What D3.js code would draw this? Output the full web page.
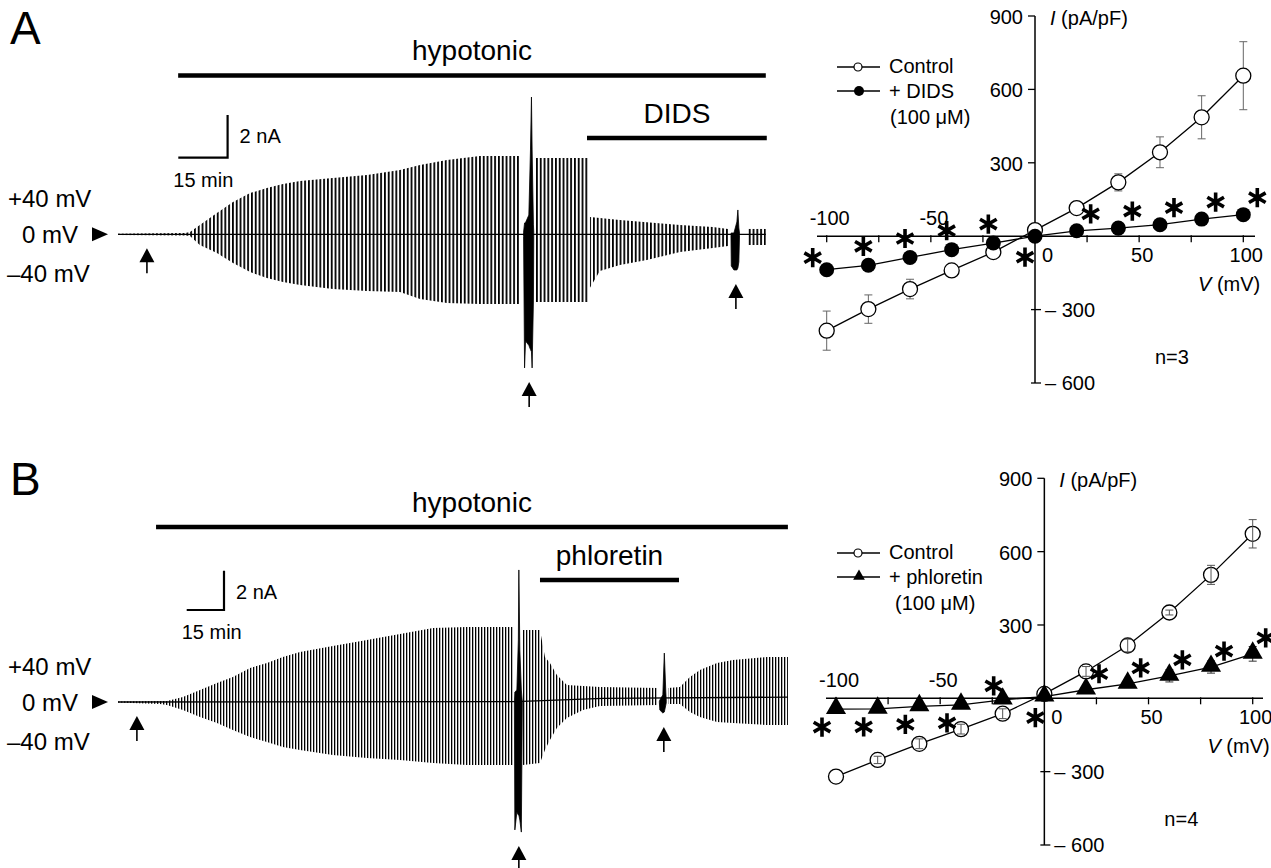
<!DOCTYPE html>
<html><head><meta charset="utf-8">
<script src="https://cdn.jsdelivr.net/npm/d3@7"></script>
<style>
body{margin:0;background:#fff}
svg{display:block}
text{font-family:"Liberation Sans",Arial,Helvetica,sans-serif;fill:#000}
</style>
</head><body>
<svg id="c" width="1271" height="868"></svg>
<script>
// ================= DATA =================
// Whole-cell current traces: [time (min), upper envelope (nA), lower envelope (nA)]
const traceA_seg1 = [[0,0.03,-0.03],[20.4,0.06,-0.06],[21.9,0.11,-0.08],[24.9,0.44,-0.50],[30.1,1.00,-0.88],[35.0,1.51,-1.34],[40.2,1.93,-1.77],[45.3,2.17,-2.05],[50.2,2.36,-2.23],[55.4,2.50,-2.37],[65.4,2.64,-2.56],[75.8,2.78,-2.66],[85.8,3.01,-2.70],[91.9,3.25,-3.03],[100.1,3.48,-3.22],[110.1,3.67,-3.26],[122.3,3.67,-3.26]];
const traceA_seg2 = [[126.9,3.57,-3.17],[143.0,3.57,-3.17]];
const traceA_seg3 = [[143.6,0.81,-2.50],[146.6,0.76,-1.72],[152.7,0.67,-1.44],[160.9,0.57,-1.20],[171.0,0.44,-0.83],[181.0,0.34,-0.64],[185.6,0.25,-0.55]];
const traceA_seg4 = [[191.4,0.25,-0.50],[197.1,0.25,-0.50]];
const spikeA1 = [[123.4,0.1,-0.1],[123.7,0.53,-6.26],[124.0,0.55,-5.0],[125.0,0.90,-5.2],[125.5,3.95,-5.4],[125.8,6.43,-5.5],[126.0,3.95,-6.26],[126.4,0.44,-3.08],[126.5,0.1,-0.1]];
const spikeA2 = [[186.5,0.05,-0.05],[186.6,0.06,-1.48],[187.4,0.06,-1.67],[188.3,0.58,-1.67],[188.6,1.14,-1.58],[188.9,0.30,-1.30],[189.1,0.05,-0.05]];
const baseA = [[0,0],[197.1,0]];

const traceB_seg1 = [[0,0.03,-0.03],[16.9,0.05,-0.10],[19.7,0.05,-0.15],[26.1,0.25,-0.41],[33.0,0.61,-0.76],[39.8,0.97,-1.07],[46.2,1.27,-1.42],[53.1,1.73,-1.78],[59.9,1.98,-2.04],[66.3,2.29,-2.29],[73.2,2.54,-2.44],[86.4,2.85,-2.70],[100.1,3.16,-2.85],[113.4,3.46,-2.95],[126.7,3.77,-3.10],[140.3,3.82,-3.21],[158.8,3.82,-3.21]];
const traceB_seg2 = [[162.8,3.66,-3.21],[169.7,3.66,-3.10],[171.7,2.29,-2.44],[173.7,1.98,-1.93],[176.5,1.37,-1.32],[180.5,0.87,-0.81],[187.0,0.81,-0.41],[193.8,0.76,-0.20],[217.1,0.71,-0.15]];
const traceB_seg3 = [[221.2,0.71,-0.10],[226.0,0.76,-0.10],[230.0,1.27,-0.51],[234.0,1.63,-0.76],[240.9,1.98,-1.02],[247.3,2.14,-1.07],[261.0,2.29,-1.17],[269.4,2.29,-1.17]];
const spikeB1 = [[159.4,0,0],[159.6,0.51,-6.51],[160.4,0.61,-5.60],[161.0,3.16,-5.75],[161.2,6.72,-5.75],[161.6,2.65,-6.01],[162.2,0.61,-6.62],[162.6,0,0]];
const spikeB2 = [[217.7,0.02,-0.02],[217.9,0.10,-0.41],[219.1,0.36,-0.56],[219.7,2.49,-0.51],[220.3,0.51,-0.15],[220.5,0.02,-0.02]];
const baseB = [[0,0],[160,0.02],[195,0.18],[269.4,0.25]];

// Solution applications (min)
const solNamesA = ["hypotonic","DIDS"];
const solStartA = [18.3,142.7];
const solEndA   = [197.1,197.4];
const solNamesB = ["hypotonic","phloretin"];
const solStartB = [15.3,169.7];
const solEndB   = [269.4,225.6];

// Times of I-V protocols (arrows), min
const ivTimesA = [8.8,125.1,188.0];
const ivTimesB = [7.6,161.2,219.5];

// I-V relations
const voltages = [-100,-80,-60,-40,-20,0,20,40,60,80,100];
const ctrlA    = [-386,-298,-216,-140,-65,25,115,220,343,486,656];
const ctrlA_se = [80,58,40,12,10,0,15,35,63,88,139];
const didsA    = [-137,-119,-87,-55,-28,0,22,33,47,70,88];
const sigA     = [1,1,1,1,1,1,1,1,1,1,1];
const ctrlB    = [-320,-252,-186,-126,-63,18,110,216,351,505,673];
const ctrlB_se = [0,15,20,20,20,0,20,26,10,39,58];
const phlB     = [-44,-43,-33,-27,-6,7,35,59,92,128,182];
const phlB_se  = [12,12,10,10,8,0,10,15,25,25,30];
const sigB     = [1,1,1,1,1,1,1,1,1,1,1];

const xTicksIV = [-100,-75,-50,-25,25,50,75,100];
const xLabelsIV = [-100,-50,0,50,100];
const yTicksIV = [900,600,300,-300,-600];

// ================= DRAW =================
const svg = d3.select("#c");
svg.append("rect").attr("width",1271).attr("height",868).attr("fill","#fff");
const defs = svg.append("defs");
function hatch(id, w, lw){
  const p = defs.append("pattern").attr("id",id).attr("patternUnits","userSpaceOnUse")
    .attr("x",118).attr("y",0).attr("width",w).attr("height",20);
  p.append("rect").attr("x",0).attr("y",0).attr("width",lw).attr("height",20).attr("fill","#000");
}
hatch("hatchA",3.8,1.8);
hatch("hatchB",3.0,1.3);

function tracePanel(o){
  const g = svg.append("g");
  const x = o.x, y = o.y;
  const area = d3.area().x(d=>x(d[0])).y0(d=>y(d[2])).y1(d=>y(d[1]));
  o.segs.forEach(s=>g.append("path").attr("d",area(s)).attr("fill",`url(#${o.hatch})`));
  o.spikes.forEach(s=>g.append("path").attr("d",area(s)).attr("fill","#000").attr("stroke","#000").attr("stroke-width",0.8));
  g.append("path").attr("d",d3.line().x(d=>x(d[0])).y(d=>y(d[1]))(o.base))
    .attr("fill","none").attr("stroke","#000").attr("stroke-width",1.3);
  // solution bars
  o.names.forEach((n,i)=>{
    const by = o.barY[i];
    g.append("line").attr("x1",x(o.start[i])).attr("x2",x(o.end[i])).attr("y1",by).attr("y2",by)
      .attr("stroke","#000").attr("stroke-width",4.5);
    g.append("text").attr("x",(x(o.start[i])+x(o.end[i]))/2).attr("y",by-15.5)
      .attr("text-anchor","middle").attr("font-size",28).text(n);
  });
  // arrows
  const all = o.segs.concat(o.spikes).flat();
  o.iv.forEach(t=>{
    const near = all.filter(d=>Math.abs(d[0]-t)<2.5);
    const low = near.length? d3.min(near,d=>d[2]) : 0;
    const top = y(low)+14;
    const ax = x(t);
    g.append("path").attr("d",`M${ax},${top}L${ax+7.5},${top+14}L${ax-7.5},${top+14}Z`).attr("fill","#000");
    g.append("line").attr("x1",ax).attr("x2",ax).attr("y1",top+13).attr("y2",top+25)
      .attr("stroke","#000").attr("stroke-width",1.6);
  });
  // scale bar
  const sx = o.sb[0], sy = o.sb[1];
  const w = x(15)-x(0), h = y(0)-y(2);
  g.append("path").attr("d",`M${sx},${sy}H${sx+w}V${sy-h}`).attr("fill","none")
    .attr("stroke","#000").attr("stroke-width",2.2);
  g.append("text").attr("x",sx+w+12).attr("y",sy-h+28).attr("font-size",20).text("2 nA");
  g.append("text").attr("x",sx-5).attr("y",sy+29).attr("font-size",20).text("15 min");
  // voltage labels
  const y0 = y(0);
  g.append("text").attr("x",8).attr("y",y0-27).attr("font-size",24).text("+40 mV");
  g.append("text").attr("x",22).attr("y",y0+9).attr("font-size",24).text("0 mV");
  g.append("path").attr("d",`M92,${y0-7}L108,${y0}L92,${y0+7}Z`).attr("fill","#000");
  g.append("text").attr("x",7).attr("y",y0+48).attr("font-size",24).text("\u201340 mV");
  g.append("text").attr("x",10).attr("y",o.letterY).attr("font-size",46).text(o.letter);
}

tracePanel({
  letter:"A", letterY:44,
  x:d3.scaleLinear([0,15],[118,167.3]), y:d3.scaleLinear([0,2],[234.3,191.6]),
  segs:[traceA_seg1,traceA_seg2,traceA_seg3,traceA_seg4], spikes:[spikeA1,spikeA2], base:baseA,
  hatch:"hatchA", names:solNamesA, start:solStartA, end:solEndA, barY:[75.5,138],
  iv:ivTimesA, sb:[178.3,157.7]
});
tracePanel({
  letter:"B", letterY:495,
  x:d3.scaleLinear([0,15],[118,155.3]), y:d3.scaleLinear([0,2],[702,662.7]),
  segs:[traceB_seg1,traceB_seg2,traceB_seg3], spikes:[spikeB1,spikeB2], base:baseB,
  hatch:"hatchB", names:solNamesB, start:solStartB, end:solEndB, barY:[527,580],
  iv:ivTimesB, sb:[186.7,610]
});

function ivPanel(o){
  const g = svg.append("g");
  const x = o.x, y = o.y;
  const x0 = x(0), y0 = y(0);
  // axes
  g.append("line").attr("x1",o.xRange[0]).attr("x2",o.xRange[1]).attr("y1",y0).attr("y2",y0).attr("stroke","#000").attr("stroke-width",1.5);
  g.append("line").attr("x1",x0).attr("x2",x0).attr("y1",y(900)).attr("y2",y(-600)).attr("stroke","#000").attr("stroke-width",1.5);
  xTicksIV.forEach(v=>g.append("line").attr("x1",x(v)).attr("x2",x(v)).attr("y1",y0-1).attr("y2",y0+6).attr("stroke","#000").attr("stroke-width",1.3));
  xLabelsIV.forEach(v=>{
    if(v<0) g.append("text").attr("x",x(v)+3).attr("y",y0-11).attr("text-anchor","middle").attr("font-size",20).text(v);
    else if(v===0) g.append("text").attr("x",x0+7).attr("y",y0+26).attr("font-size",20).text("0");
    else g.append("text").attr("x",x(v)+3).attr("y",y0+26).attr("text-anchor","middle").attr("font-size",20).text(v);
  });
  yTicksIV.forEach(v=>{
    if(v>0){
      g.append("line").attr("x1",x0-7).attr("x2",x0).attr("y1",y(v)).attr("y2",y(v)).attr("stroke","#000").attr("stroke-width",1.3);
      g.append("text").attr("x",x0-12).attr("y",y(v)+8).attr("text-anchor","end").attr("font-size",20).text(v);
    } else {
      g.append("line").attr("x1",x0-4).attr("x2",x0+6).attr("y1",y(v)).attr("y2",y(v)).attr("stroke","#000").attr("stroke-width",1.3);
      g.append("text").attr("x",x0+10).attr("y",y(v)+7).attr("font-size",20).text("\u2013 "+(-v));
    }
  });
  const it = g.append("text").attr("x",x0+15).attr("y",y(900)+9).attr("font-size",20);
  it.append("tspan").attr("font-style","italic").text("I");
  it.append("tspan").text(" (pA/pF)");
  const vt = g.append("text").attr("x",x(100)+17).attr("y",y0+55).attr("text-anchor","end").attr("font-size",20);
  vt.append("tspan").attr("font-style","italic").text("V");
  vt.append("tspan").text(" (mV)");
  g.append("text").attr("x",x(60)-5).attr("y",y(-522)).attr("font-size",20).text(o.nLabel);

  const line = d3.line().x((d,i)=>x(voltages[i])).y(d=>y(d));
  const errBars = (vals, se, col)=>{
    voltages.forEach((v,i)=>{
      if(!se[i]) return;
      const cx = x(v), a = y(vals[i]+se[i]), b = y(vals[i]-se[i]);
      g.append("line").attr("x1",cx).attr("x2",cx).attr("y1",a).attr("y2",b).attr("stroke",col).attr("stroke-width",1);
      g.append("line").attr("x1",cx-4).attr("x2",cx+4).attr("y1",a).attr("y2",a).attr("stroke",col).attr("stroke-width",1);
      g.append("line").attr("x1",cx-4).attr("x2",cx+4).attr("y1",b).attr("y2",b).attr("stroke",col).attr("stroke-width",1);
    });
  };
  // drug series
  g.append("path").attr("d",line(o.drug)).attr("fill","none").attr("stroke","#000").attr("stroke-width",1.3);
  if(o.drugSe) errBars(o.drug,o.drugSe,"#333");
  // control series
  g.append("path").attr("d",line(o.ctrl)).attr("fill","none").attr("stroke","#000").attr("stroke-width",1.3);
  if(!o.barsOnTop) errBars(o.ctrl,o.ctrlSe,"#666");
  o.ctrl.forEach((d,i)=>g.append("circle").attr("cx",x(voltages[i])).attr("cy",y(d)).attr("r",7.5)
    .attr("fill","#fff").attr("stroke","#000").attr("stroke-width",1.3));
  if(o.barsOnTop) errBars(o.ctrl,o.ctrlSe,"#555");
  const sym = d3.symbol().type(o.drugSym).size(o.drugSize);
  o.drug.forEach((d,i)=>g.append("path").attr("d",sym()).attr("transform",`translate(${x(voltages[i])},${y(d)+o.symDy})`).attr("fill","#000"));
  // significance asterisks
  const ast = d3.symbol().type(d3.symbolAsterisk).size(260);
  o.sig.forEach((s,i)=>{
    if(!s) return;
    const off = o.astOffset(voltages[i]);
    g.append("path").attr("d",ast()).attr("transform",`translate(${x(voltages[i])+off[0]},${y(o.drug[i])+off[1]})`)
      .attr("fill","none").attr("stroke","#000").attr("stroke-width",3.6);
  });
  // legend
  const L = o.legend;
  g.append("line").attr("x1",L.x).attr("x2",L.x+43).attr("y1",L.y1).attr("y2",L.y1).attr("stroke","#000").attr("stroke-width",1.3);
  g.append("circle").attr("cx",L.x+21).attr("cy",L.y1).attr("r",4).attr("fill","#fff").attr("stroke","#000").attr("stroke-width",1.2);
  g.append("text").attr("x",L.x+52).attr("y",L.y1+6).attr("font-size",20).text("Control");
  g.append("line").attr("x1",L.x).attr("x2",L.x+43).attr("y1",L.y2).attr("y2",L.y2).attr("stroke","#000").attr("stroke-width",1.3);
  g.append("path").attr("d",d3.symbol().type(o.drugSym).size(o.legSize)()).attr("transform",`translate(${L.x+22},${L.y2+o.symDy*0.6})`).attr("fill","#000");
  g.append("text").attr("x",L.x+52).attr("y",L.y2+7).attr("font-size",20).text(o.drugName);
  g.append("text").attr("x",L.x+L.concDx).attr("y",L.y2+33).attr("font-size",20).text("(100 \u03bcM)");
}

ivPanel({
  x:d3.scaleLinear([-100,100],[826.7,1243.3]), y:d3.scaleLinear([-600,900],[383,16]),
  xRange:[817,1255],
  ctrl:ctrlA, ctrlSe:ctrlA_se, drug:didsA, drugSe:null, sig:sigA,
  drugSym:d3.symbolCircle, drugSize:177, legSize:78, symDy:0, barsOnTop:false,
  drugName:"+ DIDS", nLabel:"n=3",
  legend:{x:837,y1:67,y2:91,concDx:53},
  astOffset:v=> v===-100?[-14,-12]: v<0?[-5,-19]: v===0?[-10,21]:[14,-17]
});
ivPanel({
  x:d3.scaleLinear([-100,100],[836,1252.7]), y:d3.scaleLinear([-600,900],[845,478.3]),
  xRange:[826,1263],
  ctrl:ctrlB, ctrlSe:ctrlB_se, drug:phlB, drugSe:phlB_se, sig:sigB,
  drugSym:d3.symbolTriangle, drugSize:175, legSize:60, symDy:-1, barsOnTop:true,
  drugName:"+ phloretin", nLabel:"n=4",
  legend:{x:837,y1:553,y2:577,concDx:58},
  astOffset:v=> v<=-40?[-14,18]: v<0?[-9,-14]: v===0?[-9,21]:[13,-16]
});
</script>
</body></html>
